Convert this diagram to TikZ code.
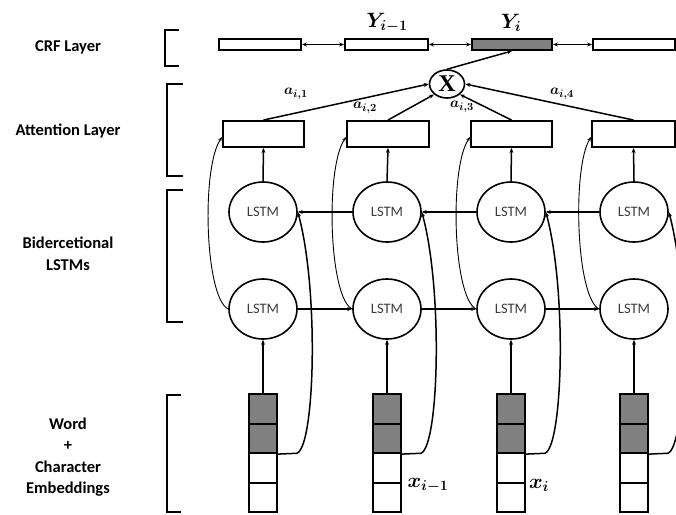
\documentclass[tikz,border=0pt]{standalone}
\usepackage{fontspec}
\setmainfont{Carlito}
\newfontfamily\xfont{Liberation Serif}
\usepackage{amsmath,bm}
\usetikzlibrary{arrows.meta,shapes.geometric}
\definecolor{cellgray}{RGB}{128,128,128}
\definecolor{lstmtext}{RGB}{60,60,60}
\tikzset{
  box/.style={draw, line width=1.9pt, inner sep=0pt, minimum height=11pt},
  attbox/.style={draw, line width=1.9pt, inner sep=0pt, minimum height=26pt},
  lstm/.style={ellipse, draw, line width=1.6pt, minimum width=68pt, minimum height=60pt, inner sep=0pt,
    font=\fontsize{14.5}{14.5}\selectfont, text=lstmtext},
  cell/.style={draw, line width=1.7pt, minimum width=28pt, minimum height=29.5pt, inner sep=0pt},
  arr/.style={-{Stealth[length=5pt,width=4pt]}, line width=1.5pt},
  darr/.style={{Stealth[length=5pt,width=4pt]}-{Stealth[length=5pt,width=4pt]}, line width=1.3pt},
  curvthick/.style={-{Stealth[length=5pt,width=4pt]}, line width=1.5pt},
  curvthin/.style={-{Stealth[length=4.5pt,width=3.5pt]}, line width=0.9pt},
  lab/.style={font=\fontsize{16.5}{21.5}\selectfont\bfseries, align=center},
  brack/.style={line width=2.5pt, line join=miter},
  sym/.style={font=\fontsize{21}{21}\selectfont},
  asym/.style={font=\fontsize{15}{15}\selectfont}
}
\begin{document}
\begin{tikzpicture}[x=1pt,y=-1pt]
\useasboundingbox (0,0) rectangle (676,514);
\clip (0,0) rectangle (676,514);

% layer labels
\node[lab] (lcrf) at (68,47) {CRF Layer};
\node[lab] (latt) at (68,131) {Attention Layer};
\node[lab] (lbi) at (68,254) {Bidercetional\\LSTMs};
\node[lab] (lemb) at (68,457) {Word\\+\\Character\\Embeddings};

% brackets
\draw[brack] (179,30) -- (165,30) -- (165,66) -- (179,66);
\draw[brack] (183,84) -- (167,84) -- (167,176) -- (183,176);
\draw[brack] (183,190) -- (167,190) -- (167,322) -- (183,322);
\draw[brack] (181,395) -- (167,395) -- (167,512) -- (181,512);

% CRF boxes
\node[box, minimum width=82pt] (c1) at (260,44.5) {};
\node[box, minimum width=83pt] (c2) at (386.5,44.5) {};
\node[box, minimum width=80pt, fill=cellgray] (c3) at (512,44.5) {};
\node[box, minimum width=82pt] (c4) at (634,44.5) {};
\draw[darr] (c1.east) -- (c2.west);
\draw[darr] (c2.east) -- (c3.west);
\draw[darr] (c3.east) -- (c4.west);
\node[sym] (ylab1) at (387,23) {$\bm{Y_{i-1}}$};
\node[sym] (ylab2) at (511,23) {$\bm{Y_{i}}$};

% multiplication node
\node[ellipse, draw, line width=1.6pt, minimum width=35pt, minimum height=28pt, inner sep=0pt] (mult) at (447,84)
  {\fontsize{24}{24}\selectfont\xfont\bfseries X};
\draw[arr] (mult.north) -- (c3.south);

% attention boxes
\node[attbox, minimum width=81pt] (a1) at (263.5,134) {};
\node[attbox, minimum width=82pt] (a2) at (388,134) {};
\node[attbox, minimum width=81pt] (a3) at (511.5,134) {};
\node[attbox, minimum width=83pt] (a4) at (633.5,134) {};
\draw[arr] (a1.north) -- (mult.west);
\draw[arr] (a2.north) -- (mult.south west);
\draw[arr] (a3.north) -- (mult.south east);
\draw[arr] (a4.north) -- (mult.east);
\node[asym] (w1) at (296,94) {$\bm{a_{i,1}}$};
\node[asym] (w2) at (365,108) {$\bm{a_{i,2}}$};
\node[asym] (w3) at (462,107) {$\bm{a_{i,3}}$};
\node[asym] (w4) at (562,94) {$\bm{a_{i,4}}$};

% LSTMs, embeddings and their connectors
\foreach \k/\x in {1/263,2/387,3/511,4/634}{
  \node[lstm] (U\k) at (\x,212) {LSTM};
  \node[lstm] (L\k) at (\x,309) {LSTM};
  \node[cell, fill=cellgray] (ea\k) at (\x,409) {};
  \node[cell, fill=cellgray] (eb\k) at (\x,438.5) {};
  \node[cell] (ec\k) at (\x,468) {};
  \node[cell] (ed\k) at (\x,497.5) {};
  \draw[arr] (ea\k.north) -- (L\k.south);
  \draw[arr] (U\k.north) -- (a\k.south);
  \draw[curvthick] (eb\k.south east) -- (\x+34,453.25) .. controls (\x+52,446) and (\x+56,290) .. (U\k.east);
  \draw[curvthin] (L\k.west) .. controls (\x-58,298) and (\x-62,168) .. ([yshift=-3pt]a\k.west);
}
\draw[arr] (L1.east) -- (L2.west);
\draw[arr] (L2.east) -- (L3.west);
\draw[arr] (L3.east) -- (L4.west);
\draw[arr] (U2.west) -- (U1.east);
\draw[arr] (U3.west) -- (U2.east);
\draw[arr] (U4.west) -- (U3.east);

\node[sym] (xlab1) at (428,485) {$\bm{x_{i-1}}$};
\node[sym] (xlab2) at (539,485) {$\bm{x_{i}}$};
\end{tikzpicture}
\end{document}
